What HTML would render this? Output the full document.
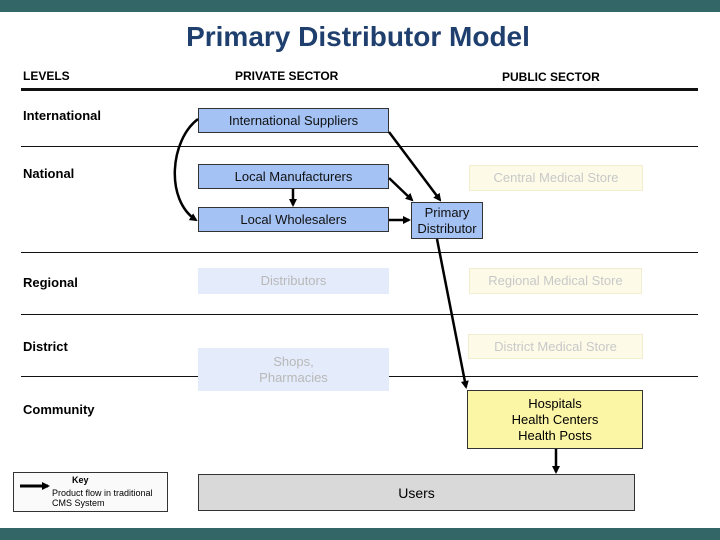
<!DOCTYPE html>
<html><head><meta charset="utf-8"><style>
body{margin:0;width:720px;height:540px;background:#fff;position:relative;overflow:hidden;font-family:"Liberation Sans",sans-serif}
.a{position:absolute}
.bx{position:absolute;box-sizing:border-box;display:flex;align-items:center;justify-content:center;text-align:center;font-size:13px;line-height:16px}
.blue{background:#a4c2f4;border:1px solid #333;color:#111}
.pb{background:#e4ebfa;color:#b8b8b8}
.py{background:#fdfbe8;border:1px solid #f1edcf;color:#c8c8c8}
.lv{position:absolute;left:23px;font-weight:bold;font-size:13px}
.hl{position:absolute;left:21px;width:677px;height:1px;background:#111}
</style></head><body>
<div class="a" style="left:0;top:0;width:720px;height:12px;background:#336666"></div>
<div class="a" style="left:0;top:528px;width:720px;height:12px;background:#336666"></div>
<div class="a" style="left:0;top:21px;width:716px;text-align:center;font-size:28px;font-weight:bold;color:#1f3f6e">Primary Distributor Model</div>
<div class="lv" style="top:69px;font-size:12px">LEVELS</div>
<div class="a" style="left:235px;top:69px;font-size:12px;font-weight:bold">PRIVATE SECTOR</div>
<div class="a" style="left:502px;top:70px;font-size:12px;font-weight:bold">PUBLIC SECTOR</div>
<div class="a" style="left:21px;top:88px;width:677px;height:3px;background:#111"></div>
<div class="hl" style="top:146px"></div>
<div class="hl" style="top:252px"></div>
<div class="hl" style="top:314px"></div>
<div class="hl" style="top:376px"></div>
<div class="lv" style="top:108px">International</div>
<div class="lv" style="top:166px">National</div>
<div class="lv" style="top:275px">Regional</div>
<div class="lv" style="top:339px">District</div>
<div class="lv" style="top:402px">Community</div>
<div class="bx blue" style="left:198px;top:108px;width:191px;height:25px">International Suppliers</div>
<div class="bx blue" style="left:198px;top:164px;width:191px;height:25px">Local Manufacturers</div>
<div class="bx blue" style="left:198px;top:207px;width:191px;height:25px">Local Wholesalers</div>
<div class="bx blue" style="left:411px;top:202px;width:72px;height:37px">Primary<br>Distributor</div>
<div class="bx py" style="left:469px;top:165px;width:174px;height:26px">Central Medical Store</div>
<div class="bx pb" style="left:198px;top:268px;width:191px;height:26px">Distributors</div>
<div class="bx py" style="left:469px;top:268px;width:173px;height:26px">Regional Medical Store</div>
<div class="bx py" style="left:468px;top:334px;width:175px;height:25px">District Medical Store</div>
<div class="bx pb" style="left:198px;top:348px;width:191px;height:43px">Shops,<br>Pharmacies</div>
<div class="bx" style="left:467px;top:390px;width:176px;height:59px;background:#fbf5a6;border:1px solid #333">Hospitals<br>Health Centers<br>Health Posts</div>
<div class="bx" style="left:198px;top:474px;width:437px;height:37px;background:#d9d9d9;border:1px solid #333;font-size:14px">Users</div>
<div class="a" style="left:13px;top:472px;width:155px;height:40px;box-sizing:border-box;border:1px solid #333;background:#fafafa"></div>
<div class="a" style="left:72px;top:475px;font-size:9px;font-weight:bold">Key</div>
<div class="a" style="left:52px;top:488px;font-size:9px;line-height:10px">Product flow in traditional<br>CMS System</div>
<svg class="a" style="left:0;top:0" width="720" height="540">
<defs><marker id="m" markerWidth="8" markerHeight="8" refX="6" refY="4" orient="auto" markerUnits="userSpaceOnUse"><path d="M0,0 L8,4 L0,8z" fill="#000"/></marker></defs>
<g stroke="#000" stroke-width="2.5" fill="none" marker-end="url(#m)">
<path d="M198,119 C170,140 165,200 196,220"/>
<line x1="293" y1="189" x2="293" y2="205"/>
<line x1="389" y1="220" x2="409" y2="220"/>
<line x1="389" y1="178" x2="412" y2="200"/>
<line x1="389" y1="132" x2="440" y2="200"/>
<line x1="437" y1="239" x2="466" y2="387"/>
<line x1="556" y1="449" x2="556" y2="472"/>
<line x1="20" y1="486" x2="48" y2="486" stroke-width="3"/>
</g></svg>
</body></html>
